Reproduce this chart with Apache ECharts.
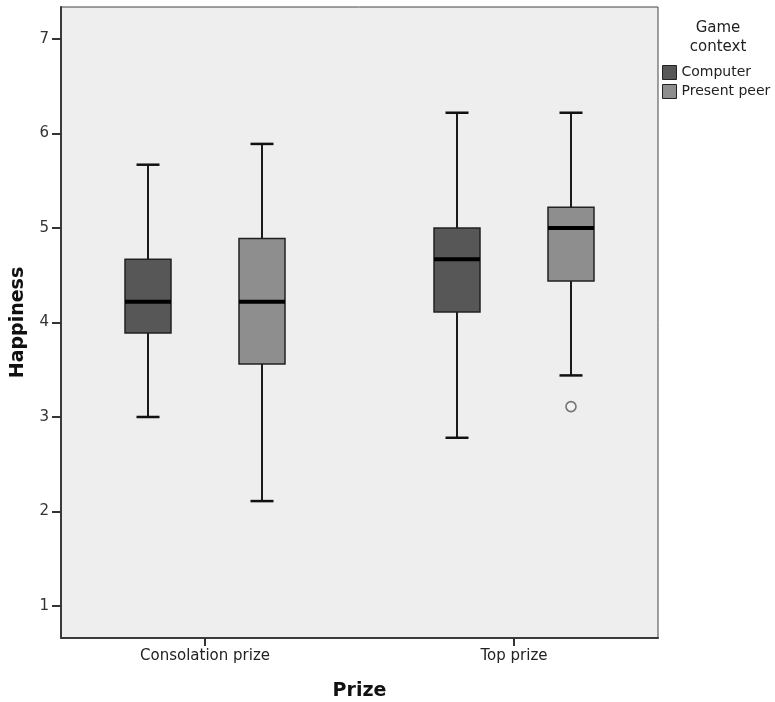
<!DOCTYPE html>
<html>
<head>
<meta charset="utf-8">
<script src="https://cdn.jsdelivr.net/npm/echarts@6/dist/echarts.min.js"></script>
<style>
html,body{margin:0;padding:0;background:#fff;}
#chart{width:775px;height:702px;}
</style>
</head>
<body>
<div id="chart"></div>
<script>
// ---- data ----
const categories = ['Consolation prize', 'Top prize'];
const seriesNames = ['Computer', 'Present peer'];
// [lower whisker, Q1, median, Q3, upper whisker]
const computerBox = [
  [3.00, 3.89, 4.22, 4.67, 5.67],
  [2.78, 4.11, 4.67, 5.00, 6.22]
];
const peerBox = [
  [2.11, 3.56, 4.22, 4.89, 5.89],
  [3.44, 4.44, 5.00, 5.22, 6.22]
];
// [category index, value]
const peerOutliers = [[1, 3.11]];
const yTicks = [1, 2, 3, 4, 5, 6, 7];

// ---- chart ----
const FONT = 'DejaVu Sans';
const chart = echarts.init(document.getElementById('chart'), null, {renderer: 'canvas'});

function boxRenderer(offset, fill) {
  return function (params, api) {
    const c = api.value(0);
    const pt = (i) => api.coord([c, api.value(i)]);
    const x = pt(1)[0] + offset;
    const yLow = pt(1)[1], yQ1 = pt(2)[1], yMed = pt(3)[1], yQ3 = pt(4)[1], yHigh = pt(5)[1];
    const half = 23, cap = 11.5;
    return {
      type: 'group',
      children: [
        {type: 'line', shape: {x1: x, y1: yQ3, x2: x, y2: yHigh}, style: {stroke: '#1a1a1a', lineWidth: 2}},
        {type: 'line', shape: {x1: x, y1: yQ1, x2: x, y2: yLow}, style: {stroke: '#1a1a1a', lineWidth: 2}},
        {type: 'line', shape: {x1: x - cap, y1: yHigh, x2: x + cap, y2: yHigh}, style: {stroke: '#111', lineWidth: 2.5}},
        {type: 'line', shape: {x1: x - cap, y1: yLow, x2: x + cap, y2: yLow}, style: {stroke: '#111', lineWidth: 2.5}},
        {type: 'rect', shape: {x: x - half, y: yQ3, width: half * 2, height: yQ1 - yQ3}, style: {fill: fill, stroke: '#222', lineWidth: 1.5}},
        {type: 'line', shape: {x1: x - half, y1: yMed, x2: x + half, y2: yMed}, style: {stroke: '#000', lineWidth: 4}}
      ]
    };
  };
}

const compData = computerBox.map((v, i) => [i].concat(v));
const peerData = peerBox.map((v, i) => [i].concat(v));
const COMP = '#575757', PEER = '#8e8e8e';

const option = {
  animation: false,
  backgroundColor: '#ffffff',
  textStyle: {fontFamily: FONT},
  grid: [
    {left: 61, top: 7, width: 597, height: 631, show: true, backgroundColor: '#eeeeee', borderColor: '#444', borderWidth: 1,
     containLabel: false, outerBoundsMode: 'none'},
    {left: 50.5, top: 7, width: 618, height: 631, show: false, containLabel: false, outerBoundsMode: 'none'}
  ],
  xAxis: [
    {gridIndex: 0, type: 'value', min: 0, max: 1,
     axisLine: {show: true, onZero: false, lineStyle: {color: '#3a3a3a', width: 2}},
     axisTick: {show: false}, axisLabel: {show: false}, splitLine: {show: false}},
    {gridIndex: 1, type: 'category', data: categories, boundaryGap: true,
     axisLine: {show: false},
     axisTick: {show: true, inside: false, alignWithLabel: true, length: 8, lineStyle: {color: '#333', width: 2}},
     axisLabel: {fontSize: 15, color: '#222', margin: 11, fontFamily: FONT},
     name: 'Prize', nameLocation: 'middle', nameGap: 44,
     nameTextStyle: {fontSize: 19, fontWeight: 'bold', color: '#111', fontFamily: FONT}}
  ],
  yAxis: [
    {gridIndex: 0, type: 'value', min: 0.661, max: 7.339,
     axisLine: {show: true, onZero: false, lineStyle: {color: '#3a3a3a', width: 2}},
     axisTick: {show: true, length: 9, customValues: yTicks, lineStyle: {color: '#333', width: 2}},
     axisLabel: {fontSize: 15, color: '#333', margin: 12, customValues: yTicks, fontFamily: FONT},
     splitLine: {show: false},
     name: 'Happiness', nameLocation: 'middle', nameGap: 33, nameRotate: 90,
     nameTextStyle: {fontSize: 19, fontWeight: 'bold', color: '#111', fontFamily: FONT}},
    {gridIndex: 1, type: 'value', min: 0.661, max: 7.339, show: false}
  ],
  legend: {
    orient: 'vertical', left: 662, top: 65, padding: 0, itemWidth: 14, itemHeight: 14, itemGap: 4,
    icon: 'rect',
    data: seriesNames,
    itemStyle: {borderColor: '#222', borderWidth: 1},
    textStyle: {fontSize: 14, color: '#222', fontFamily: FONT}
  },
  graphic: [
    {type: 'text', x: 718, y: 19, silent: true,
     style: {text: 'Game\ncontext', textAlign: 'center', textVerticalAlign: 'top', fontSize: 15, lineHeight: 19, fontFamily: FONT, fill: '#222'}}
  ],
  series: [
    {name: seriesNames[0], type: 'custom', xAxisIndex: 1, yAxisIndex: 1, data: compData,
     itemStyle: {color: COMP}, encode: {x: 0, y: [1, 2, 3, 4, 5]},
     renderItem: boxRenderer(-57, COMP)},
    {name: seriesNames[1], type: 'custom', xAxisIndex: 1, yAxisIndex: 1, data: peerData,
     itemStyle: {color: PEER}, encode: {x: 0, y: [1, 2, 3, 4, 5]},
     renderItem: boxRenderer(57, PEER)},
    {name: 'outliers', type: 'scatter', xAxisIndex: 1, yAxisIndex: 1, data: peerOutliers,
     symbol: 'circle', symbolSize: 10, symbolOffset: [57, 0],
     itemStyle: {color: '#f2f2f2', borderColor: '#555', borderWidth: 1.6}, z: 5}
  ]
};
chart.setOption(option);
</script>
</body>
</html>
